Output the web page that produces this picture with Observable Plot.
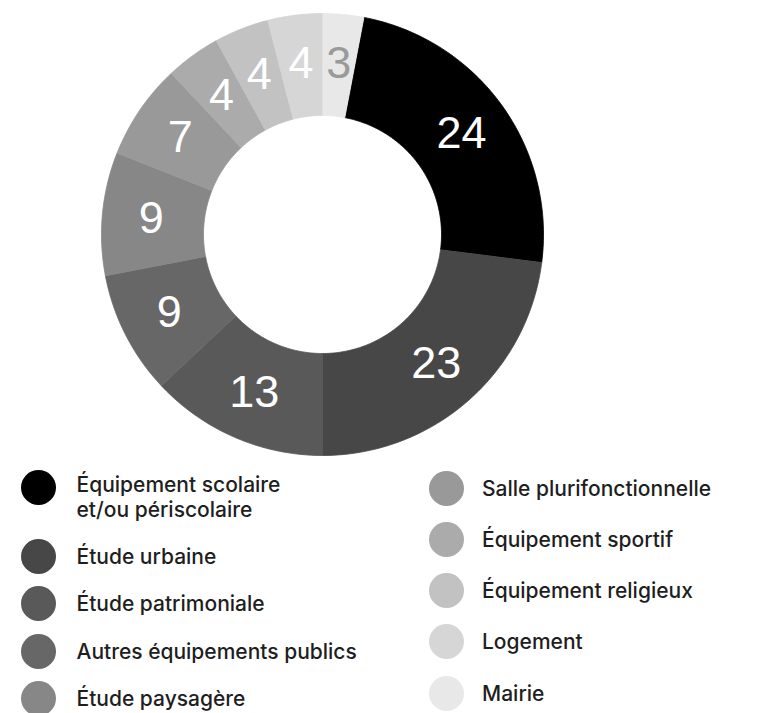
<!DOCTYPE html>
<html>
<head>
<meta charset="utf-8">
<script src="https://cdn.jsdelivr.net/npm/d3@7"></script>
<script src="https://cdn.jsdelivr.net/npm/@observablehq/plot@0.6"></script>
<style>
  body { margin: 0; background: #fff; }
  #wrap { position: relative; width: 760px; height: 713px; font-family: "Liberation Sans", Arial, sans-serif; }
  .col { position: absolute; }
  .item { display: flex; align-items: center; color: #1e1e1e; font-family: Inter, "Liberation Sans", sans-serif; font-weight: 500; font-size: 21px; line-height: 25px; }
  .dot { width: 35px; height: 35px; border-radius: 50%; flex: none; }
  .left .item { height: 47.5px; }
  .left .item .dot { margin-right: 21px; }
  .left .item.first { height: 63px; align-items: flex-start; }
  .left .item.first span { margin-top: 2px; }
  .right .item { height: 51.25px; }
  .right .item .dot { margin-right: 18.5px; }
</style>
</head>
<body>
<div id="wrap"></div>
<script>
const categories = [
  "Équipement scolaire et/ou périscolaire",
  "Étude urbaine",
  "Étude patrimoniale",
  "Autres équipements publics",
  "Étude paysagère",
  "Salle plurifonctionnelle",
  "Équipement sportif",
  "Équipement religieux",
  "Logement",
  "Mairie"
];
const values = [24, 23, 13, 9, 9, 7, 4, 4, 4, 3];
const colors = ["#000000", "#474747", "#595959", "#676767", "#878787", "#999999", "#ababab", "#c2c2c2", "#d6d6d6", "#e8e8e8"];
const legendLines = [
  ["Équipement scolaire", "et/ou périscolaire"],
  ["Étude urbaine"],
  ["Étude patrimoniale"],
  ["Autres équipements publics"],
  ["Étude paysagère"],
  ["Salle plurifonctionnelle"],
  ["Équipement sportif"],
  ["Équipement religieux"],
  ["Logement"],
  ["Mairie"]
];

const rows = categories.map((c, i) => ({category: c, value: values[i]}));
const total = d3.sum(values);
const start = 2 * Math.PI * values[values.length - 1] / total;
const arcs = d3.pie().sort(null).value(d => d.value).startAngle(start).endAngle(start + 2 * Math.PI)(rows);

const R_IN = 0.5385, R_LABEL = 0.778;
const pts = [];
for (const a of arcs) {
  const n = Math.max(8, Math.ceil((a.endAngle - a.startAngle) * 60));
  for (let k = 0; k <= n; k++) {
    const t = a.startAngle + (a.endAngle - a.startAngle) * k / n;
    pts.push({category: a.data.category, x: Math.sin(t), y: Math.cos(t)});
  }
  for (let k = n; k >= 0; k--) {
    const t = a.startAngle + (a.endAngle - a.startAngle) * k / n;
    pts.push({category: a.data.category, x: R_IN * Math.sin(t), y: R_IN * Math.cos(t)});
  }
}
const labels = arcs.map(a => {
  const m = (a.startAngle + a.endAngle) / 2;
  return {category: a.data.category, value: a.data.value, x: R_LABEL * Math.sin(m), y: R_LABEL * Math.cos(m)};
});

const chart = Plot.plot({
  width: 760,
  height: 462,
  margin: 0,
  x: {domain: [-1, 1], range: [101, 543], axis: null},
  y: {domain: [-1, 1], range: [455, 13], axis: null},
  color: {type: "ordinal", domain: categories, range: colors},
  marks: [
    Plot.line(pts, {x: "x", y: "y", z: "category", fill: "category", stroke: "category", strokeWidth: 0.8, curve: "linear"}),
    Plot.text(labels, {
      x: "x", y: "y", text: d => String(d.value),
      fill: d => d.category === "Mairie" ? "#9a9a9a" : "#ffffff",
      fontSize: 45, fontFamily: "Liberation Sans, Arial, sans-serif"
    })
  ]
});

const wrap = document.getElementById("wrap");
wrap.appendChild(chart);

function makeCol(cls, idxs, left, top) {
  const col = document.createElement("div");
  col.className = "col " + cls;
  col.style.left = left + "px";
  col.style.top = top + "px";
  idxs.forEach((i, j) => {
    const item = document.createElement("div");
    item.className = "item" + (cls === "left" && j === 0 ? " first" : "");
    const dot = document.createElement("div");
    dot.className = "dot";
    dot.style.background = colors[i];
    const span = document.createElement("span");
    span.innerHTML = legendLines[i].join("<br>");
    item.appendChild(dot);
    item.appendChild(span);
    col.appendChild(item);
  });
  wrap.appendChild(col);
}
makeCol("left", [0, 1, 2, 3, 4], 20.5, 469.5);
makeCol("right", [5, 6, 7, 8, 9], 428.5, 462.4);
</script>
</body>
</html>
